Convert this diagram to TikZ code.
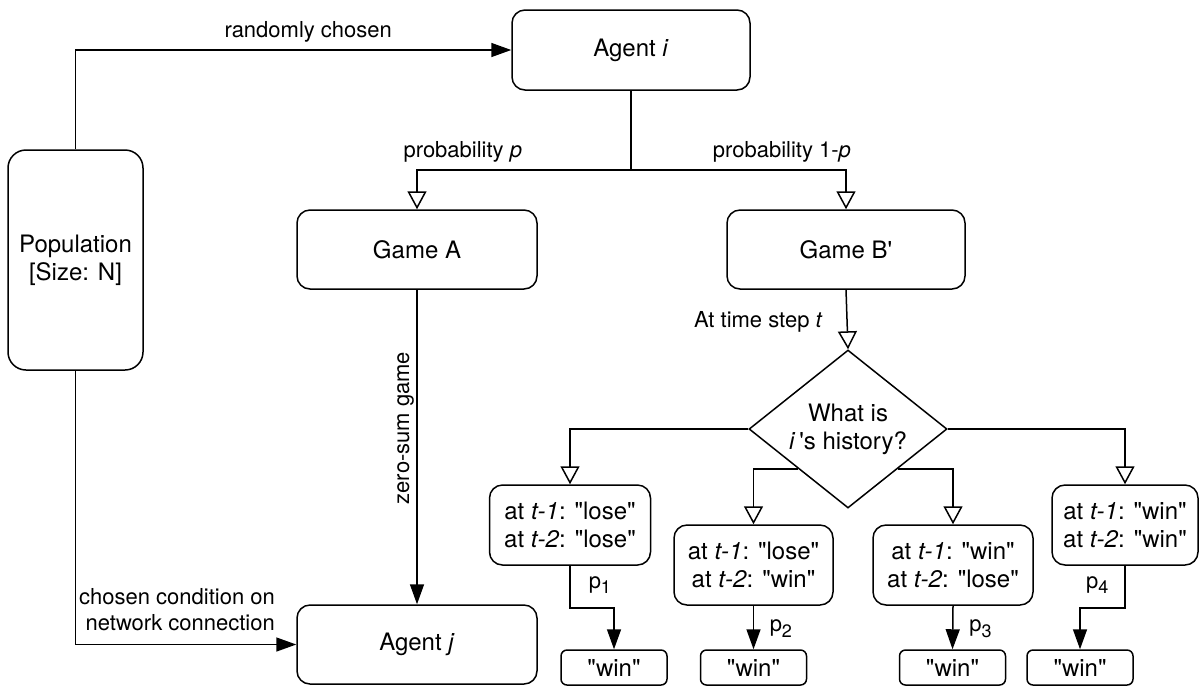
\documentclass[tikz,border=0pt]{standalone}
\usepackage{fontspec}
\setmainfont{TeX Gyre Heros}
\usetikzlibrary{shapes.geometric,arrows.meta}
\newcommand{\qd}{\textquotedbl}
\newcommand{\psub}[1]{p\raisebox{-0.45ex}{\fontsize{9}{9}\selectfont #1}}
\begin{document}
\begin{tikzpicture}[x=0.5pt,y=-0.5pt,
  box/.style={draw, line width=0.75pt, rounded corners=6.5pt, align=center,
    font=\fontsize{12}{14}\selectfont, inner sep=0pt},
  popbox/.style={box, rounded corners=9pt},
  winbox/.style={box, rounded corners=3pt, minimum width=53pt, minimum height=17.5pt},
  hbox/.style={box, minimum height=40pt},
  dia/.style={draw, diamond, aspect=1.25, inner sep=0pt, minimum width=99pt,
    minimum height=79pt, line width=0.75pt, align=center,
    font=\fontsize{12}{14}\selectfont},
  lab/.style={font=\fontsize{11}{13}\selectfont, inner sep=2pt},
  plain/.style={draw, line width=0.75pt},
  oarrow/.style={draw, line width=0.75pt, -{Triangle[open, length=9pt, width=9.5pt]}},
  farrow/.style={draw, line width=0.75pt, -{Triangle[length=10pt, width=7pt]}}
]
\useasboundingbox (0,0) rectangle (1202,687);

% nodes
\node[popbox, minimum width=67.5pt, minimum height=110pt] (pop) at (75.5,260) {Population\\{}[Size: N]};
\node[box, minimum width=119pt, minimum height=40pt] (ai) at (631,50) {Agent \textit{i}};
\node[box, minimum width=120pt, minimum height=39.5pt] (ga) at (417,249.5) {Game A};
\node[box, minimum width=119pt, minimum height=39.5pt] (gb) at (846,249.5) {Game B\textquotesingle};
\node[box, minimum width=120pt, minimum height=39.5pt] (aj) at (417,644.5) {Agent \textit{j}};
\node[dia] (d) at (848,429) {What is\\\textit{i}\,\textquotesingle s history?};

\node[hbox, minimum width=80.5pt] (b1) at (570,525) {at \textit{t-1}: \qd lose\qd\\at \textit{t-2}: \qd lose\qd};
\node[hbox, minimum width=79.5pt] (b2) at (753.5,565) {at \textit{t-1}: \qd lose\qd\\at \textit{t-2}: \qd win\qd};
\node[hbox, minimum width=80pt] (b3) at (953,565) {at \textit{t-1}: \qd win\qd\\at \textit{t-2}: \qd lose\qd};
\node[hbox, minimum width=73pt] (b4) at (1125,525) {at \textit{t-1}: \qd win\qd\\at \textit{t-2}: \qd win\qd};

\node[winbox] (w1) at (614,667.5) {\qd win\qd};
\node[winbox] (w2) at (753.5,667.5) {\qd win\qd};
\node[winbox] (w3) at (952.5,667.5) {\qd win\qd};
\node[winbox] (w4) at (1080,667.5) {\qd win\qd};

\coordinate (split) at (631,170);

% connectors
\draw[farrow] (pop.north) |- node[lab, pos=0.767, anchor=base, yshift=6.5pt] {randomly chosen} (ai.west);
\draw[plain] (ai.south) -- (split);
\draw[oarrow] (split) -| node[lab, pos=0.393, anchor=base, yshift=6.5pt] {probability \textit{p}} (ga.north);
\draw[oarrow] (split) -| node[lab, pos=0.351, anchor=base, yshift=6.5pt] {probability 1-\textit{p}} (gb.north);
\draw[oarrow] (gb.south) -- node[lab, pos=0.636, anchor=base east, xshift=-10pt] {At time step \textit{t}} (d.north);

\draw[farrow] (ga.south) -- coordinate[pos=0.44] (zs) (aj.north);
\node[lab, rotate=90, anchor=base] at ([xshift=-4pt]zs) {zero-sum game};

\draw[farrow] (pop.south) |- (aj.west);
\node[lab, align=right, anchor=east] at ([xshift=-8.5pt, yshift=17.25pt]aj.west) {chosen condition on\\network connection};

\draw[oarrow] (d.west) -| (b1.north);
\draw[oarrow] (d.south west) -| (b2.north);
\draw[oarrow] (d.south east) -| (b3.north);
\draw[oarrow] (d.east) -| (b4.north);

\draw[farrow] (b1.south) -- ++(0,42) node[lab, anchor=base west, xshift=7pt, yshift=9.5pt] {\psub{1}} -| (w1.north);
\draw[farrow] (b2.south) -- node[lab, pos=0.6, anchor=base west, xshift=5.75pt] {\psub{2}} (w2.north);
\draw[farrow] (b3.south) -- node[lab, pos=0.6, anchor=base west, xshift=6pt] {\psub{3}} (w3.north);
\draw[farrow] (b4.south) -- ++(0,42) node[lab, anchor=base east, xshift=-6pt, yshift=9.5pt] {\psub{4}} -| (w4.north);
\end{tikzpicture}
\end{document}
